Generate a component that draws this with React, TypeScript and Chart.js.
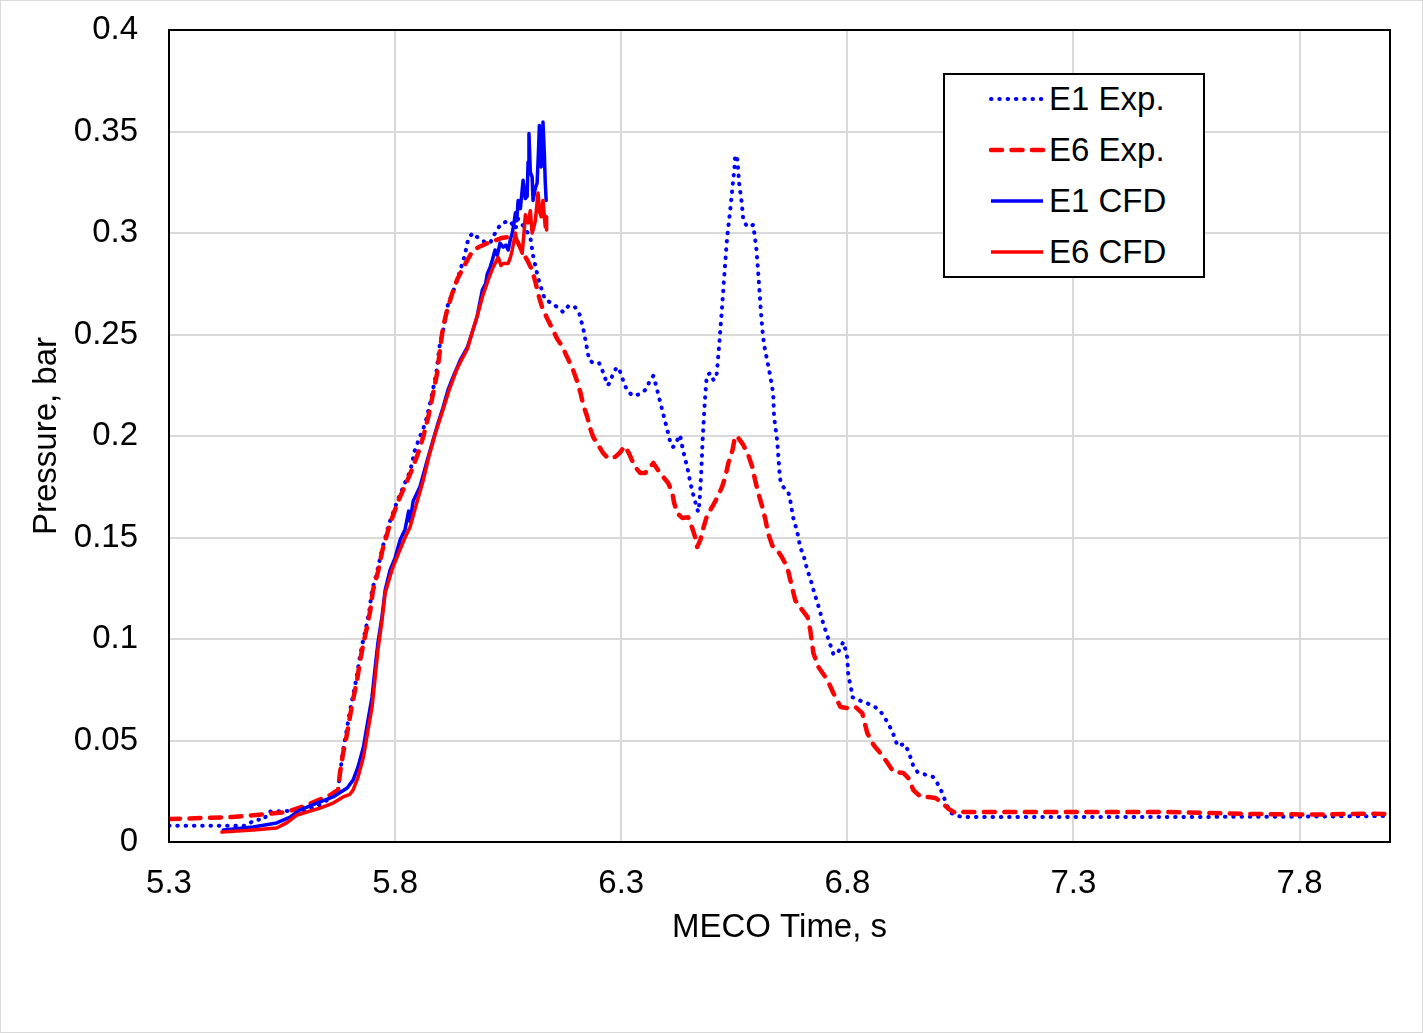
import { useEffect, useRef } from 'react';
import { Chart, registerables } from 'chart.js';

Chart.register(...registerables);

const FONT = '"Liberation Sans", Arial, sans-serif';

const xTicks = [5.3, 5.8, 6.3, 6.8, 7.3, 7.8];
const yTicks = [0, 0.05, 0.1, 0.15, 0.2, 0.25, 0.3, 0.35, 0.4];
const seriesNames = ['E1 Exp.', 'E6 Exp.', 'E1 CFD', 'E6 CFD'];

// E1 Exp. (dotted blue)
const e1ExpTime = [
  5.30, 5.47, 5.49, 5.51, 5.52, 5.60, 5.63, 5.66, 5.674,
  5.678, 5.684, 5.692, 5.698, 5.705, 5.714, 5.721, 5.728, 5.736, 5.743,
  5.749, 5.760, 5.771, 5.787, 5.805, 5.820, 5.832, 5.838, 5.842, 5.849,
  5.853, 5.860, 5.870, 5.882, 5.891, 5.898, 5.906, 5.917, 5.928, 5.939,
  5.950, 5.955, 5.962, 5.972, 5.984, 5.999, 6.010, 6.019, 6.026, 6.037,
  6.054, 6.066, 6.072, 6.085, 6.099,
  6.105, 6.116, 6.127, 6.132, 6.147, 6.161, 6.172, 6.183, 6.196, 6.207,
  6.216, 6.222, 6.229, 6.238, 6.251, 6.258, 6.270, 6.276, 6.282, 6.291,
  6.297, 6.307, 6.314, 6.327, 6.342, 6.355, 6.362, 6.371, 6.375, 6.384,
  6.393, 6.402, 6.410, 6.415, 6.424, 6.430, 6.437, 6.446, 6.453, 6.461,
  6.470,
  6.473, 6.477, 6.480, 6.484, 6.488, 6.490, 6.497, 6.504, 6.510, 6.512,
  6.517, 6.523, 6.528, 6.534, 6.541, 6.546, 6.550, 6.552, 6.557, 6.561,
  6.566, 6.570, 6.579, 6.592, 6.594, 6.599, 6.603, 6.608, 6.612, 6.616,
  6.623, 6.630, 6.636, 6.638, 6.645, 6.650, 6.652, 6.658, 6.670, 6.674,
  6.680, 6.689, 6.696, 6.703, 6.712, 6.718, 6.727, 6.738, 6.747, 6.758,
  6.769, 6.778, 6.785, 6.791, 6.796, 6.800, 6.802, 6.809, 6.811, 6.824,
  6.842, 6.858, 6.871, 6.882, 6.891, 6.900, 6.911, 6.926, 6.935, 6.946,
  6.955, 6.968, 6.990, 6.999, 7.008, 7.021, 7.030, 7.043, 7.060, 7.500,
  7.800, 8.000,
];
const e1ExpPressure = [
  0.008, 0.008, 0.011, 0.011, 0.015, 0.0155, 0.018, 0.022, 0.026,
  0.033, 0.044, 0.054, 0.062, 0.070, 0.080, 0.090, 0.098, 0.106, 0.114,
  0.124, 0.133, 0.144, 0.157, 0.168, 0.176, 0.182, 0.187, 0.192, 0.196,
  0.199, 0.202, 0.209, 0.221, 0.231, 0.244, 0.252, 0.265, 0.271, 0.278,
  0.286, 0.290, 0.2975, 0.300, 0.2975, 0.2955, 0.295, 0.299, 0.302, 0.305,
  0.306, 0.302, 0.307, 0.303, 0.298,
  0.289, 0.278, 0.270, 0.267, 0.2655, 0.263, 0.261, 0.264, 0.264, 0.2606,
  0.253, 0.246, 0.2374, 0.236, 0.236, 0.2325, 0.225, 0.2266, 0.231, 0.234,
  0.232, 0.2256, 0.222, 0.2197, 0.2207, 0.223, 0.2266, 0.2296, 0.2266, 0.2187,
  0.2108, 0.203, 0.1956, 0.1946, 0.198, 0.2005, 0.1926, 0.1847, 0.1768, 0.1695,
  0.1626,
  0.167, 0.182, 0.198, 0.214, 0.2266, 0.230, 0.231, 0.2276, 0.2286, 0.2325,
  0.246, 0.2635, 0.2793, 0.2975, 0.3113, 0.3227, 0.331, 0.3384, 0.336, 0.324,
  0.3158, 0.3062, 0.303, 0.304, 0.3005, 0.292, 0.2803, 0.264, 0.2527, 0.2448,
  0.237, 0.229, 0.2212, 0.2094, 0.1975, 0.1823, 0.178, 0.175, 0.172, 0.168,
  0.160, 0.153, 0.145, 0.1414, 0.1335, 0.130, 0.1227, 0.1148, 0.1074, 0.100,
  0.0926, 0.0926, 0.096, 0.0985, 0.0946, 0.0906, 0.0823, 0.0749, 0.0714, 0.070,
  0.0685, 0.067, 0.065, 0.0616, 0.058, 0.0542, 0.0473, 0.0483, 0.0448, 0.0374,
  0.0345, 0.0335, 0.032, 0.029, 0.0251, 0.0177, 0.0143, 0.0128, 0.0123, 0.0123,
  0.0125, 0.0128,
];

// E6 Exp. (dashed red)
const e6ExpTime = [
  5.30, 5.44, 5.517, 5.56, 5.605, 5.656, 5.674,
  5.678, 5.685, 5.694, 5.700, 5.707, 5.716, 5.723, 5.730, 5.738, 5.745,
  5.751, 5.762, 5.772, 5.789, 5.807, 5.827, 5.840, 5.851, 5.862, 5.873,
  5.884, 5.893, 5.900, 5.906, 5.915, 5.926, 5.937, 5.948, 5.960, 5.970,
  5.984, 6.000, 6.017, 6.035, 6.050, 6.070, 6.083, 6.092,
  6.103, 6.110, 6.117, 6.125, 6.136, 6.147, 6.158, 6.170, 6.180, 6.192,
  6.203, 6.210, 6.216, 6.225, 6.231, 6.238, 6.249, 6.260, 6.271, 6.287,
  6.298, 6.307, 6.316, 6.324, 6.331, 6.342, 6.353, 6.364, 6.371, 6.382,
  6.393, 6.404, 6.413, 6.417, 6.424, 6.435, 6.448, 6.457, 6.464, 6.468,
  6.475, 6.482, 6.490, 6.501, 6.512, 6.523, 6.530, 6.537, 6.546, 6.552,
  6.559, 6.570, 6.581, 6.590, 6.596, 6.603, 6.612, 6.619, 6.625, 6.634,
  6.645, 6.656, 6.667, 6.674, 6.685, 6.700, 6.712, 6.718, 6.725, 6.736,
  6.756, 6.769, 6.785, 6.800, 6.818, 6.833, 6.844, 6.858, 6.873, 6.889,
  6.902, 6.924, 6.935, 6.946, 6.962, 6.979, 6.995, 7.010, 7.024, 7.039,
  7.050, 7.500, 7.700, 7.850, 7.950, 8.000,
];
const e6ExpPressure = [
  0.0113, 0.0123, 0.0138, 0.0148, 0.0182, 0.0231, 0.0256,
  0.034, 0.0438, 0.0537, 0.0616, 0.070, 0.080, 0.0897, 0.098, 0.106, 0.114,
  0.124, 0.133, 0.1438, 0.157, 0.168, 0.178, 0.185, 0.1916, 0.1995, 0.209,
  0.221, 0.231, 0.244, 0.2537, 0.262, 0.270, 0.277, 0.2818, 0.2867, 0.2906,
  0.293, 0.2946, 0.296, 0.2975, 0.298, 0.296, 0.290, 0.2867,
  0.2818, 0.276, 0.2695, 0.2635, 0.258, 0.2532, 0.248, 0.244, 0.239, 0.2335,
  0.2266, 0.2212, 0.2153, 0.2094, 0.204, 0.1995, 0.1956, 0.1916, 0.189, 0.1897,
  0.192, 0.195, 0.192, 0.188, 0.1847, 0.1818, 0.1818, 0.1847, 0.1867, 0.183,
  0.1798, 0.1768, 0.172, 0.167, 0.162, 0.1596, 0.160, 0.1547, 0.1498, 0.1453,
  0.1488, 0.155, 0.161, 0.165, 0.1695, 0.1749, 0.1798, 0.1867, 0.193, 0.200,
  0.199, 0.1956, 0.1906, 0.1847, 0.1783, 0.172, 0.165, 0.1586, 0.152, 0.146,
  0.1438, 0.140, 0.1355, 0.129, 0.119, 0.1143, 0.1108, 0.1044, 0.093, 0.0862,
  0.0798, 0.0734, 0.0665, 0.066, 0.0665, 0.0635, 0.0537, 0.0478, 0.0438, 0.0389,
  0.0345, 0.034, 0.0315, 0.0256, 0.0222, 0.0222, 0.0217, 0.0192, 0.0163, 0.0143,
  0.0148, 0.0148, 0.0138, 0.0135, 0.014, 0.0138,
];

// E1 CFD (solid blue)
const e1CfdTime = [
  5.420, 5.486, 5.538, 5.568, 5.590, 5.627, 5.663, 5.694, 5.707, 5.718,
  5.730, 5.740, 5.749, 5.756, 5.762, 5.771, 5.778, 5.789, 5.800, 5.811,
  5.822, 5.830, 5.833, 5.840, 5.855, 5.871, 5.884, 5.895, 5.906, 5.917,
  5.928, 5.944, 5.960, 5.970, 5.981, 5.993, 6.000, 6.004, 6.010, 6.015,
  6.021, 6.026, 6.032, 6.039, 6.045, 6.050, 6.055, 6.059, 6.063, 6.066,
  6.069, 6.072, 6.077, 6.083, 6.088, 6.092, 6.094, 6.096, 6.099, 6.103,
  6.105, 6.110, 6.114, 6.117, 6.119, 6.121, 6.123, 6.125, 6.127, 6.130,
  6.132, 6.134,
];
const e1CfdPressure = [
  0.0059, 0.0074, 0.0094, 0.0123, 0.0158, 0.0192, 0.0222, 0.0266, 0.0305, 0.037,
  0.0468, 0.060, 0.0714, 0.0862, 0.098, 0.111, 0.124, 0.134, 0.140, 0.1488,
  0.154, 0.163, 0.158, 0.168, 0.175, 0.188, 0.198, 0.2064, 0.214, 0.2227,
  0.229, 0.2374, 0.2438, 0.2507, 0.2586, 0.272, 0.275, 0.280, 0.283, 0.2867,
  0.2916, 0.289, 0.295, 0.293, 0.294, 0.2916, 0.297, 0.300, 0.305, 0.310,
  0.306, 0.316, 0.312, 0.326, 0.317, 0.318, 0.335, 0.349, 0.330, 0.3276,
  0.316, 0.322, 0.3246, 0.340, 0.353, 0.335, 0.3325, 0.345, 0.3547, 0.339,
  0.325, 0.316,
];

// E6 CFD (solid red)
const e6CfdTime = [
  5.417, 5.486, 5.538, 5.560, 5.583, 5.605, 5.634, 5.663, 5.685, 5.700,
  5.707, 5.718, 5.730, 5.740, 5.749, 5.756, 5.762, 5.771, 5.778, 5.793,
  5.807, 5.822, 5.833, 5.849, 5.862, 5.875, 5.890, 5.906, 5.920, 5.935,
  5.948, 5.960, 5.970, 5.981, 5.993, 6.006, 6.017, 6.028, 6.034, 6.039,
  6.050, 6.055, 6.059, 6.066, 6.069, 6.072, 6.081, 6.085, 6.088, 6.094,
  6.099, 6.103, 6.107, 6.110, 6.116, 6.120, 6.123, 6.127, 6.132, 6.134,
  6.135,
];
const e6CfdPressure = [
  0.0049, 0.0059, 0.0069, 0.0094, 0.0133, 0.0148, 0.0167, 0.0192, 0.0222, 0.0235,
  0.0256, 0.032, 0.0419, 0.055, 0.0665, 0.0813, 0.0946, 0.109, 0.1227, 0.134,
  0.142, 0.150, 0.155, 0.168, 0.178, 0.190, 0.202, 0.213, 0.223, 0.232,
  0.238, 0.243, 0.2507, 0.2586, 0.2685, 0.277, 0.2833, 0.288, 0.284, 0.285,
  0.285, 0.288, 0.2916, 0.300, 0.296, 0.295, 0.290, 0.300, 0.309, 0.305,
  0.311, 0.300, 0.303, 0.306, 0.3197, 0.310, 0.308, 0.316, 0.303, 0.308,
  0.3015,
];

const pts = (t: number[], p: number[]) => t.map((x, i) => ({ x, y: p[i] }));

const lineStyles = [
  { color: '#0000ff', width: 4, dash: [0.5, 7.8] },
  { color: '#ff0000', width: 4.5, dash: [11, 9.5] },
  { color: '#0000ff', width: 3.5, dash: [] as number[] },
  { color: '#ff0000', width: 3.5, dash: [] as number[] },
];

const framePlugin = {
  id: 'frame',
  afterDatasetsDraw(chart: any) {
    const { ctx, chartArea: a } = chart;
    ctx.save();
    ctx.strokeStyle = '#000';
    ctx.lineWidth = 2;
    ctx.strokeRect(a.left, a.top, a.right - a.left, a.bottom - a.top);
    ctx.restore();
  },
};

export default function App() {
  const canvasRef = useRef<HTMLCanvasElement>(null);
  const chartRef = useRef<Chart | null>(null);

  useEffect(() => {
    if (!canvasRef.current) return;
    if (chartRef.current) chartRef.current.destroy();

    const series = [
      pts(e1ExpTime, e1ExpPressure),
      pts(e6ExpTime, e6ExpPressure),
      pts(e1CfdTime, e1CfdPressure),
      pts(e6CfdTime, e6CfdPressure),
    ];
    const tickFont = { family: FONT, size: 33 };
    const grid = { color: '#d9d9d9', lineWidth: 2, drawTicks: false };

    chartRef.current = new Chart(canvasRef.current, {
      type: 'line',
      data: {
        datasets: series.map((data, i) => ({
          label: seriesNames[i],
          data,
          borderColor: lineStyles[i].color,
          borderWidth: lineStyles[i].width,
          borderDash: lineStyles[i].dash,
          borderCapStyle: 'round',
          borderJoinStyle: 'round',
          pointRadius: 0,
          tension: 0,
          fill: false,
          order: 4 - i, // later series drawn on top, like the original
        })),
      },
      options: {
        animation: false,
        responsive: true,
        maintainAspectRatio: false,
        layout: { padding: { top: 29, right: 32, left: 0, bottom: 0 } },
        plugins: { legend: { display: false }, tooltip: { enabled: false } },
        scales: {
          x: {
            type: 'linear',
            min: 5.3,
            max: 8,
            afterBuildTicks: (s: any) => { s.ticks = xTicks.map((value) => ({ value })); },
            afterFit: (s: any) => { s.height = 190; s.paddingLeft = 0; s.paddingRight = 0; },
            grid,
            border: { display: false },
            ticks: {
              padding: 22, color: '#000', font: tickFont, maxRotation: 0, autoSkip: false,
              callback: (v: any) => Number(v).toFixed(1),
            },
            title: {
              display: true, text: 'MECO Time, s', color: '#000', font: tickFont,
              padding: { top: 0, bottom: 84 },
            },
          },
          y: {
            type: 'linear',
            min: 0,
            max: 0.4,
            afterBuildTicks: (s: any) => { s.ticks = yTicks.map((value) => ({ value })); },
            afterFit: (s: any) => { s.width = 168; s.paddingTop = 0; s.paddingBottom = 0; },
            grid,
            border: { display: false },
            ticks: {
              padding: 31, color: '#000', font: tickFont,
              callback: (v: any) => String(Number(Number(v).toFixed(2))),
            },
            title: {
              display: true, text: 'Pressure, bar', color: '#000', font: tickFont,
              padding: { top: 26, bottom: 0 },
            },
          },
        },
      },
      plugins: [framePlugin],
    } as any);

    return () => { chartRef.current?.destroy(); };
  }, []);

  return (
    <div style={{
      position: 'fixed', left: 0, top: 0, width: 1423, height: 1033, boxSizing: 'border-box',
      border: '1px solid #d9d9d9', background: '#fff', overflow: 'hidden',
    }}>
      <div style={{ position: 'absolute', left: 0, top: 0, width: 1421, height: 1031 }}>
        <canvas ref={canvasRef} />
      </div>
      <div style={{
        position: 'absolute', left: 942, top: 72, width: 262, height: 205, boxSizing: 'border-box',
        border: '2px solid #000', background: '#fff', fontFamily: FONT, fontSize: 33, color: '#000',
      }}>
        {seriesNames.map((name, i) => (
          <div key={name} style={{
            position: 'absolute', left: 44, top: 4 + i * 51, height: 40,
            display: 'flex', alignItems: 'center', whiteSpace: 'nowrap',
          }}>
            <svg width={56} height={10} style={{ display: 'block' }}>
              <line x1={2} y1={5} x2={54} y2={5}
                stroke={lineStyles[i].color} strokeWidth={lineStyles[i].width}
                strokeDasharray={lineStyles[i].dash.length ? lineStyles[i].dash.join(' ') : undefined}
                strokeLinecap={lineStyles[i].dash.length ? 'round' : 'butt'} />
            </svg>
            <span style={{ marginLeft: 4, lineHeight: '40px' }}>{name}</span>
          </div>
        ))}
      </div>
    </div>
  );
}
